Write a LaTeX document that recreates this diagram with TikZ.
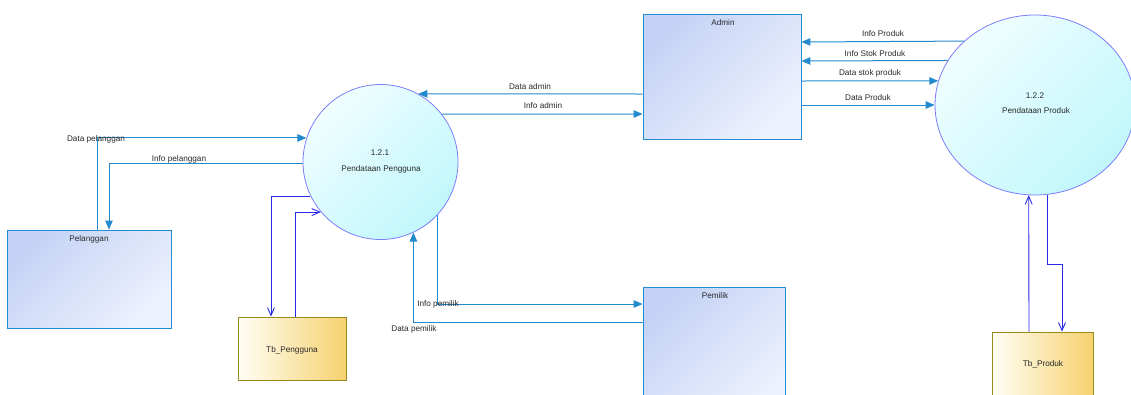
\documentclass[tikz,border=0pt]{standalone}
\usepackage{fontspec}
\setmainfont{Liberation Sans}
\usetikzlibrary{arrows.meta,shapes.geometric}

\definecolor{flowc}{RGB}{35,138,205}
\definecolor{storeflow}{RGB}{40,40,235}
\definecolor{entline}{RGB}{35,140,210}
\definecolor{entA}{RGB}{196,211,245}
\definecolor{entB}{RGB}{238,241,254}
\definecolor{procline}{RGB}{125,125,250}
\definecolor{procA}{RGB}{240,254,255}
\definecolor{procB}{RGB}{192,247,252}
\definecolor{storeline}{RGB}{150,140,30}
\definecolor{storeA}{RGB}{255,253,246}
\definecolor{storeB}{RGB}{246,210,110}
\definecolor{txt}{RGB}{40,40,40}

\begin{document}
\begin{tikzpicture}[x=1pt,y=-1pt,
  font=\fontsize{8.2}{9.8}\selectfont,
  entity/.style={draw=entline, line width=0.9pt, top color=entA, bottom color=entB,
    shading angle=45, rectangle, inner sep=0pt},
  process/.style={draw=procline, line width=0.8pt, top color=procA, bottom color=procB,
    shading angle=45, inner sep=0pt},
  datastore/.style={draw=storeline, line width=0.9pt, left color=storeA, right color=storeB,
    rectangle, inner sep=0pt},
  lbl/.style={text=txt, inner sep=0pt, anchor=center},
  flow/.style={draw=flowc, line width=1pt, -{Triangle[length=9pt,width=7.5pt]}},
  sflow/.style={draw=storeflow, line width=0.9pt, -{Straight Barb[length=8pt,width=7pt]}}
]
\clip (0,0) rectangle (1131,394);
\useasboundingbox (0,0) rectangle (1131,394);

% external entities
\node[entity, minimum width=158pt, minimum height=125pt] (adm) at (722,76.5) {};
\node[entity, minimum width=164pt, minimum height=98pt] (pel) at (89,279) {};
\node[entity, minimum width=142pt, minimum height=130pt] (pem) at (714,352) {};

% data stores
\node[datastore, minimum width=108pt, minimum height=63pt] (tbp) at (292,348.5) {};
\node[datastore, minimum width=101pt, minimum height=66pt] (tbpr) at (1042.5,365) {};

% processes
\node[process, circle, minimum size=155pt] (c1) at (380.5,162) {};
\node[process, ellipse, minimum width=200pt, minimum height=180pt] (c2) at (1035,105) {};

% titles
\node[lbl] (admT) at (723,23) {Admin};
\node[lbl] (pelT) at (89,239) {Pelanggan};
\node[lbl] (pemT) at (715,296) {Pemilik};
\node[lbl] (tbpT) at (292,350) {Tb\_Pengguna};
\node[lbl] (tbprT) at (1043,364) {Tb\_Produk};
\node[lbl] (c1n) at (380,153) {1.2.1};
\node[lbl] (c1t) at (381,169) {Pendataan Pengguna};
\node[lbl] (c2n) at (1035,96) {1.2.2};
\node[lbl] (c2t) at (1036,111) {Pendataan Produk};

% customer flows
\draw[flow] ([xshift=8pt]pel.north) |- (c1.162.74);
\draw[flow] (c1.181.5) -| ([xshift=20pt]pel.north);

% user table flows
\draw[sflow] (c1.206.85) -| ([xshift=-21pt]tbp.north);
\draw[sflow] ([xshift=3pt]tbp.north) |- (c1.220.17);

% owner flows
\draw[flow] ([yshift=30pt]pem.west) -| (c1.295.6);
\draw[flow] (c1.317.9) |- ([yshift=48pt]pem.west);

% admin flows
\draw[flow] ([yshift=-17.5pt]adm.west) -- (c1.61.3);
\draw[flow] (c1.38.27) -- ([yshift=-37.5pt]adm.west);
\draw[flow] (c2.138.6) -- ([yshift=34.5pt]adm.east);
\draw[flow] (c2.153.2) -- ([yshift=15.5pt]adm.east);
\draw[flow] ([yshift=-4.5pt]adm.east) -- (c2.166.0);
\draw[flow] ([yshift=-28.5pt]adm.east) -- (c2.west);

% product table flows
\coordinate (kink) at (1062,264);
\draw[sflow] ([xshift=-13.5pt]tbpr.north) -- (c2.266.2);
\draw[sflow] (c2.278.3) |- (kink) -- ([xshift=19.5pt]tbpr.north);

% flow labels
\node[lbl] (l1) at (96,139.5) {Data pelanggan};
\node[lbl] (l2) at (179,159) {Info pelanggan};
\node[lbl] (l3) at (438,304) {Info pemilik};
\node[lbl] (l4) at (414,329) {Data pemilik};
\node[lbl] (l5) at (530,87) {Data admin};
\node[lbl] (l6) at (543,106) {Info admin};
\node[lbl] (l7) at (883,34) {Info Produk};
\node[lbl] (l8) at (875,54) {Info Stok Produk};
\node[lbl] (l9) at (870,73) {Data stok produk};
\node[lbl] (l10) at (868,98) {Data Produk};
\end{tikzpicture}
\end{document}
